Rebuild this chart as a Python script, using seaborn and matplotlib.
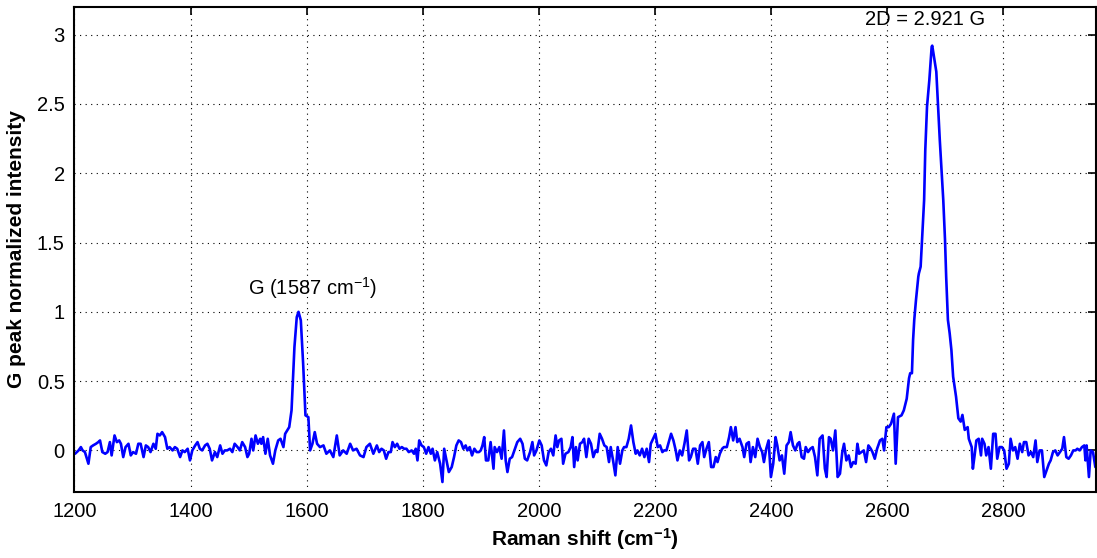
import matplotlib
matplotlib.use("Agg")
import matplotlib.pyplot as plt
import seaborn as sns
import pandas as pd

# ---- data (Raman shift in cm^-1, G-normalized intensity) ----
shift_a = [1201, 1207, 1211, 1214, 1218, 1224, 1228, 1232, 1237, 1241, 1244, 1248, 1253, 1257,
           1261, 1264, 1269, 1273, 1277, 1280, 1284, 1288, 1293, 1297, 1301, 1306, 1310, 1314,
           1319, 1323, 1327, 1331, 1336, 1340, 1343, 1347, 1351, 1356, 1360, 1364, 1369, 1373,
           1377, 1382, 1386, 1390, 1395, 1399, 1403, 1408, 1412, 1416, 1420, 1425, 1429, 1433,
           1437, 1442, 1446, 1451, 1455, 1459, 1463, 1468, 1472, 1476, 1481, 1485, 1489, 1494,
           1498, 1501, 1505, 1508, 1512, 1516, 1520, 1522, 1525, 1529, 1533, 1537, 1542, 1546,
           1551, 1555, 1560]
int_a = [-0.024, 0.0, 0.024, 0.0, -0.012, -0.096, 0.024, 0.036, 0.048, 0.06, 0.072, -0.012,
         -0.024, -0.012, 0.06, -0.036, 0.108, 0.06, 0.072, 0.048, -0.048, 0.024, 0.048, -0.036,
         -0.012, -0.024, 0.048, 0.048, -0.048, 0.036, 0.024, -0.012, 0.048, 0.012, 0.12, 0.108,
         0.132, 0.096, 0.012, 0.024, 0.0, 0.024, 0.012, -0.048, 0.0, -0.012, 0.012, -0.072, 0.0,
         0.036, 0.06, 0.012, 0.0, 0.036, 0.048, 0.012, -0.072, -0.012, -0.048, 0.036, -0.024,
         0.0, 0.0, 0.012, -0.012, 0.048, 0.024, 0.0, 0.06, 0.024, -0.048, -0.024, 0.084, 0.0,
         0.108, 0.048, 0.084, 0.048, 0.096, -0.024, 0.084, -0.036, -0.096, 0.0, 0.072, 0.084,
         0.024]

shift_g = [1563, 1570, 1574, 1579, 1583, 1586, 1590, 1594, 1598, 1603, 1606, 1610, 1614, 1618,
           1623, 1629, 1634, 1640, 1646, 1652, 1657, 1663, 1669, 1675, 1680, 1686, 1692, 1698,
           1703, 1709, 1715, 1721]
int_g = [0.12, 0.168, 0.289, 0.746, 0.962, 1.0, 0.938, 0.625, 0.253, 0.24, 0.0, 0.048, 0.132,
         0.048, 0.024, 0.036, -0.024, 0.0, -0.048, 0.108, -0.036, 0.0, -0.024, 0.048, 0.0, 0.012,
         -0.036, -0.048, 0.024, 0.048, -0.024, 0.036]

shift_b = [1725, 1729, 1733, 1737, 1741, 1745, 1748, 1752, 1756, 1760, 1764, 1768, 1772, 1776,
           1781, 1785, 1788, 1791, 1794, 1798, 1802, 1806, 1810, 1814, 1817, 1821, 1825, 1830,
           1834, 1837, 1841, 1845, 1850, 1854, 1858, 1862, 1866, 1870, 1874, 1877, 1881, 1885,
           1889, 1893, 1897, 1900, 1903, 1906, 1909, 1913, 1917, 1922, 1924, 1928, 1932, 1936,
           1940, 1943, 1946, 1950, 1954, 1959, 1963, 1968, 1972, 1976, 1980, 1985, 1989, 1992,
           1996, 2001, 2005, 2009, 2013, 2017, 2021, 2025, 2029, 2032, 2035]
int_b = [-0.012, 0.012, 0.0, -0.06, -0.012, -0.012, 0.06, 0.024, 0.048, 0.012, 0.024, 0.012,
         0.012, -0.012, 0.0, -0.024, 0.012, -0.072, 0.072, 0.036, 0.024, -0.024, 0.024, -0.024,
         0.012, -0.072, -0.012, -0.096, -0.228, 0.012, -0.072, -0.156, -0.12, -0.048, 0.036,
         0.072, 0.06, 0.012, 0.036, 0.0, 0.024, -0.036, 0.012, -0.012, -0.012, 0.0, 0.036,
         0.096, -0.072, -0.072, 0.06, -0.132, 0.024, -0.012, 0.024, -0.06, 0.144, -0.072,
         -0.156, -0.06, -0.048, 0.012, 0.06, 0.084, 0.048, -0.06, -0.072, -0.012, 0.06, -0.036,
         0.0, 0.072, 0.036, -0.072, -0.108, -0.012, 0.012, -0.036, 0.108, 0.024, 0.072]

shift_c = [2039, 2042, 2046, 2051, 2055, 2058, 2061, 2064, 2067, 2071, 2075, 2078, 2082, 2086,
           2090, 2094, 2098, 2101, 2105, 2109, 2113, 2117, 2121, 2124, 2128, 2132, 2136, 2140,
           2144, 2147, 2151, 2155, 2159, 2163, 2167, 2170, 2174, 2178, 2182, 2186, 2190, 2193,
           2197, 2201, 2205, 2209, 2213, 2216, 2220, 2224, 2228, 2232, 2236, 2239, 2243, 2247,
           2251, 2255, 2259, 2262, 2266, 2270, 2274, 2278, 2282, 2285, 2289, 2293, 2297, 2301,
           2305, 2308, 2312, 2316, 2319, 2324, 2328, 2331, 2335, 2339, 2342, 2346, 2351, 2354,
           2358, 2362, 2365, 2369, 2373, 2377, 2381, 2385, 2388, 2392, 2396, 2400, 2404, 2408,
           2411, 2415, 2419, 2423, 2427, 2431, 2434, 2438, 2442, 2446]
int_c = [0.084, -0.096, -0.024, -0.012, 0.024, 0.096, -0.12, 0.024, -0.072, 0.048, 0.06, 0.084,
         -0.048, 0.084, 0.048, -0.048, 0.0, -0.012, 0.12, 0.084, 0.036, 0.024, -0.084, 0.024,
         -0.072, -0.18, 0.024, -0.096, 0.0, 0.024, 0.024, 0.084, 0.18, 0.06, -0.024, 0.0,
         -0.036, 0.012, -0.048, 0.012, -0.084, 0.048, 0.084, 0.12, 0.024, 0.036, -0.012, 0.0,
         0.0, 0.06, 0.12, 0.072, 0.0, -0.072, 0.0, -0.036, 0.048, 0.144, -0.072, -0.048, 0.012,
         0.012, -0.096, 0.036, 0.06, -0.048, 0.012, 0.06, -0.12, -0.12, -0.048, -0.084, -0.024,
         0.012, 0.024, 0.024, 0.096, 0.168, 0.072, 0.168, 0.06, 0.084, 0.024, -0.048, 0.048,
         0.06, -0.084, 0.024, -0.048, 0.084, 0.024, -0.012, -0.084, 0.012, 0.072, -0.192,
         -0.096, 0.096, 0.036, -0.072, -0.036, -0.168, 0.036, 0.06, 0.132, 0.036, 0.0, 0.048]

shift_d = [2449, 2453, 2457, 2460, 2464, 2468, 2472, 2476, 2480, 2484, 2489, 2493, 2496, 2500,
           2503, 2507, 2511, 2515, 2519, 2523, 2526, 2530, 2534, 2538, 2542, 2546, 2549, 2552,
           2556, 2560, 2564, 2568, 2572, 2575, 2579, 2583, 2588, 2592, 2595, 2599, 2603, 2607,
           2612, 2615, 2619, 2625, 2629, 2634]
int_d = [0.06, -0.048, -0.06, 0.024, -0.012, 0.012, 0.024, -0.048, -0.18, 0.084, 0.108, -0.132,
         -0.192, 0.096, 0.084, 0.0, 0.144, -0.192, -0.168, -0.012, 0.048, -0.072, -0.036, -0.12,
         -0.084, -0.096, 0.048, -0.024, -0.012, 0.0, -0.084, 0.036, 0.012, -0.012, -0.06, 0.012,
         0.072, 0.084, 0.0, 0.168, 0.168, 0.192, 0.265, -0.096, 0.24, 0.253, 0.289, 0.373]

shift_2d = [2638, 2640, 2643, 2645, 2647, 2650, 2654, 2655, 2658, 2661, 2664, 2666, 2669, 2673,
            2677, 2678, 2681, 2685, 2688, 2691, 2694, 2697, 2700, 2702, 2705, 2708, 2711, 2714,
            2719, 2723, 2727, 2730, 2734]
int_2d = [0.521, 0.557, 0.557, 0.797, 0.942, 1.086, 1.254, 1.278, 1.326, 1.567, 1.807, 2.168,
          2.481, 2.673, 2.913, 2.921, 2.841, 2.733, 2.481, 2.240, 2.024, 1.807, 1.519, 1.254,
          0.942, 0.846, 0.725, 0.532, 0.388, 0.232, 0.208, 0.256, 0.148]

shift_e = [2739, 2741, 2746, 2748, 2751, 2754, 2758, 2762, 2764, 2768, 2771, 2775, 2779, 2783,
           2787, 2790, 2794, 2798, 2802, 2806, 2810, 2813, 2817, 2821, 2825, 2829, 2833, 2836,
           2840, 2844, 2848, 2852, 2856, 2859, 2863, 2867, 2871, 2875, 2879, 2882, 2886, 2890,
           2894, 2898, 2902, 2905, 2909, 2913, 2917, 2921, 2925, 2928, 2932, 2936, 2940, 2942,
           2944, 2948, 2951, 2955, 2959]
int_e = [0.168, 0.084, 0.024, -0.132, -0.036, 0.072, 0.084, -0.036, 0.084, 0.048, -0.036, 0.024,
         -0.132, 0.12, 0.12, -0.06, 0.024, 0.024, 0.0, -0.132, -0.096, 0.084, 0.0, 0.024, -0.06,
         0.048, -0.012, 0.06, 0.06, -0.036, -0.012, -0.048, 0.072, -0.084, 0.0, 0.0, -0.192,
         -0.144, -0.096, -0.072, -0.012, 0.0, -0.036, -0.012, 0.012, 0.096, -0.048, -0.06,
         -0.036, 0.0, 0.0, 0.012, 0.0, 0.024, 0.036, -0.072, 0.036, -0.192, 0.0, -0.012, -0.12]

x_ticks = [1200, 1400, 1600, 1800, 2000, 2200, 2400, 2600, 2800]
y_ticks = [0, 0.5, 1, 1.5, 2, 2.5, 3]
y_tick_labels = ["0", "0.5", "1", "1.5", "2", "2.5", "3"]
g_label = "G (1587 cm$^{-1}$)"
d_label = "2D = 2.921 G"

shift = shift_a + shift_g + shift_b + shift_c + shift_d + shift_2d + shift_e
intensity = int_a + int_g + int_b + int_c + int_d + int_2d + int_e
df = pd.DataFrame({"shift": shift, "intensity": intensity})

# ---- styling ----
sns.set_style("white")
plt.rcParams["font.family"] = ["Liberation Sans", "DejaVu Sans"]
plt.rcParams["text.color"] = "black"
plt.rcParams["axes.labelcolor"] = "black"
plt.rcParams["xtick.color"] = "black"
plt.rcParams["ytick.color"] = "black"
plt.rcParams["mathtext.fontset"] = "custom"
plt.rcParams["mathtext.rm"] = "Liberation Sans"
plt.rcParams["mathtext.it"] = "Liberation Sans:italic"
plt.rcParams["mathtext.bf"] = "Liberation Sans:bold"

fig = plt.figure(figsize=(10.97, 5.58), dpi=100)
ax = fig.add_axes([0.0679, 0.1183, 0.9311, 0.8692])

sns.lineplot(data=df, x="shift", y="intensity", ax=ax, color="#0000ff",
             linewidth=1.9, estimator=None, sort=False)

ax.set_xlim(1200, 2960)
ax.set_ylim(-0.3, 3.2)
ax.set_xticks(x_ticks)
ax.set_xticklabels([str(t) for t in x_ticks])
ax.set_yticks(y_ticks)
ax.set_yticklabels(y_tick_labels)

ax.grid(True, color="black", linestyle=(0, (1, 4)), linewidth=0.8)
ax.tick_params(direction="in", length=6, width=1.2, top=True, right=True,
               labelsize=14.5, colors="black", pad=7)
for sp in ax.spines.values():
    sp.set_visible(True)
    sp.set_color("black")
    sp.set_linewidth(1.5)

ax.set_xlabel("Raman shift (cm$^{\\mathbf{-1}}$)", fontsize=15, fontweight="bold",
              labelpad=4, color="black")
ax.set_ylabel("G peak normalized intensity", fontsize=15, fontweight="bold",
              labelpad=8, color="black")

ax.text(1610, 1.08, g_label, fontsize=14.5, ha="center", va="bottom", color="black")
ax.text(2665, 3.04, d_label, fontsize=14.5, ha="center", va="bottom", color="black")

fig.savefig("out.png", dpi=100)
